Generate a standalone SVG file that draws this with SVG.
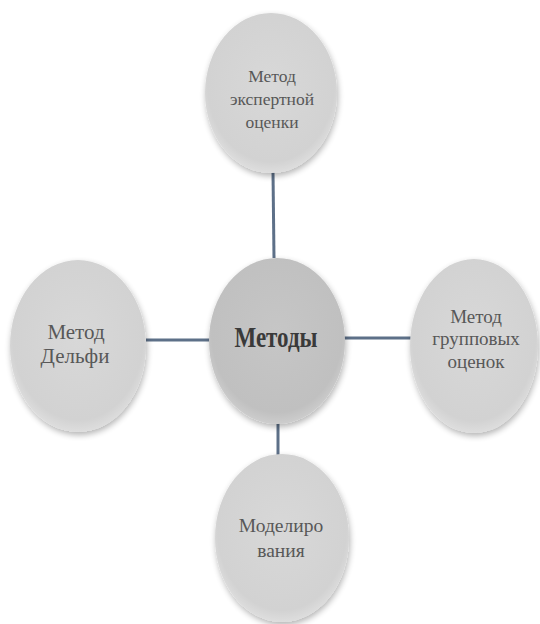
<svg xmlns="http://www.w3.org/2000/svg" width="540" height="624" viewBox="0 0 540 624">
<style>
.n{fill:url(#g);filter:url(#s)}
.c{fill:url(#gc);filter:url(#s)}
text{font-family:"Liberation Serif","DejaVu Serif","Times New Roman",serif;fill:#585858;text-anchor:middle}
.tb{font-size:23px;font-weight:bold;fill:#3a3a3a}
.e{stroke:#5d7088;stroke-width:3;fill:none}
</style>
<defs>
<radialGradient id="g" cx="0.5" cy="0.45" r="0.6">
<stop offset="0" stop-color="#d8d8d8"/>
<stop offset="0.8" stop-color="#d2d2d2"/>
<stop offset="1" stop-color="#e6e6e6"/>
</radialGradient>
<radialGradient id="gc" cx="0.5" cy="0.45" r="0.6">
<stop offset="0" stop-color="#c6c6c6"/>
<stop offset="0.8" stop-color="#c0c0c0"/>
<stop offset="1" stop-color="#d6d6d6"/>
</radialGradient>
<filter id="s" x="-20%" y="-20%" width="140%" height="140%">
<feGaussianBlur in="SourceAlpha" stdDeviation="3"/>
<feOffset dx="1" dy="3" result="b"/>
<feComponentTransfer><feFuncA type="linear" slope="0.3"/></feComponentTransfer>
<feMerge><feMergeNode/><feMergeNode in="SourceGraphic"/></feMerge>
</filter>
</defs>
<rect width="540" height="624" fill="#fff"/>
<g id="connectors">
<line class="e" x1="273" y1="172" x2="274" y2="258"/>
<line class="e" x1="146" y1="340" x2="210" y2="340"/>
<line class="e" x1="344" y1="338" x2="411" y2="338"/>
<line class="e" x1="278" y1="423" x2="278" y2="455"/>
</g>
<g id="n-top">
<ellipse class="n" cx="271" cy="93" rx="66" ry="80"/>
<g font-size="17.5px">
<text x="272" y="82">Метод</text>
<text x="272" y="105">экспертной</text>
<text x="272" y="128">оценки</text>
</g>
</g>
<g id="n-center">
<ellipse class="c" cx="277" cy="341" rx="68" ry="83"/>
<text class="tb" transform="translate(276,347) scale(1,1.3)">Методы</text>
</g>
<g id="n-left">
<ellipse class="n" cx="78" cy="346" rx="68" ry="86"/>
<g font-size="21px">
<text x="76" y="339">Метод</text>
<text x="75" y="363">Дельфи</text>
</g>
</g>
<g id="n-right">
<ellipse class="n" cx="474" cy="346" rx="64" ry="87"/>
<g font-size="19px">
<text x="476" y="323">Метод</text>
<text x="476" y="345">групповых</text>
<text x="476" y="368">оценок</text>
</g>
</g>
<g id="n-bottom">
<ellipse class="n" cx="282" cy="538" rx="67" ry="84"/>
<g font-size="19.5px">
<text x="281" y="532">Моделиро</text>
<text x="281" y="557">вания</text>
</g>
</g>
</svg>
